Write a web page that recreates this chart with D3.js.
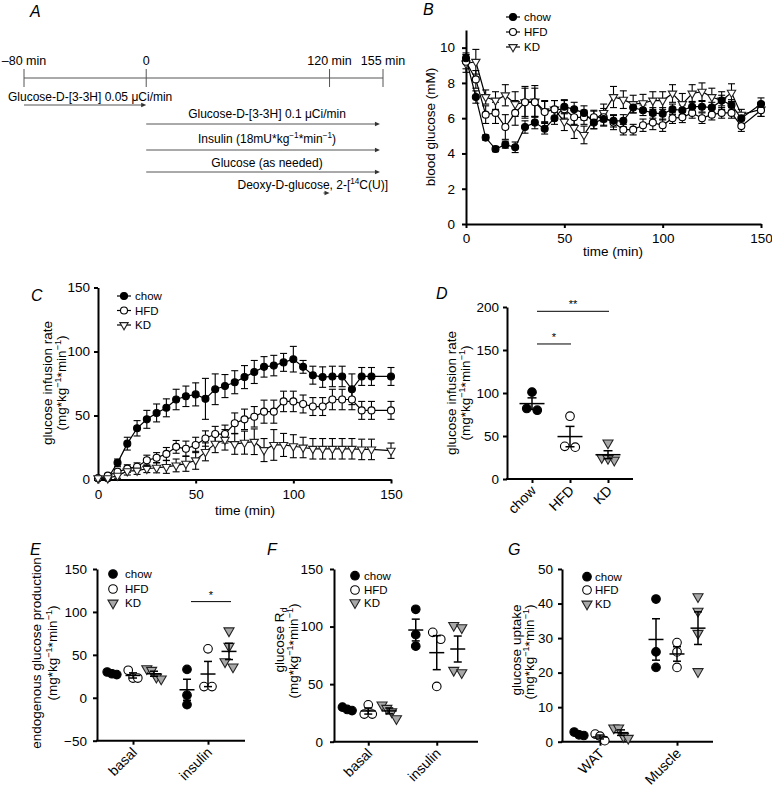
<!DOCTYPE html>
<html><head><meta charset="utf-8">
<script src="https://cdn.jsdelivr.net/npm/d3@7"></script>
<style>
body{margin:0;background:#fff;}
svg{display:block;}
</style></head><body>
<svg id="fig" width="772" height="790"></svg>
<script>
// ================= DATA =================
// Panel A protocol
const timelineTicks = [-80, 0, 120, 155];
const timelineLabels = ["\u201380 min", "0", "120 min", "155 min"];
const protocolText = [
  [["Glucose-D-[3-3H] 0.05 \u03bcCi/min"]],
  [["Glucose-D-[3-3H] 0.1 \u03bcCi/min"]],
  [["Insulin (18mU*kg"], ["\u22121", "sup"], ["*min"], ["\u22121", "sup"], [")"]],
  [["Glucose (as needed)"]],
  [["Deoxy-D-glucose, 2-["], ["14", "sup"], ["C(U)]"]]
];
const protocolStart = [-80, 0, 0, 0, 116];
const protocolEnd = [0, 153, 153, 153, 120];

// Panels B and C time axis
const timePoints = [0,5,10,15,20,25,30,35,40,45,50,55,60,65,70,75,80,85,90,95,100,105,110,115,120,125,130,135,140,150];
const seriesNames = ["chow", "HFD", "KD"];

// Panel B: blood glucose (mM)
const bgChow = [9.4,7.2,4.9,4.25,4.5,4.35,5.5,5.75,5.4,6.0,6.65,6.5,6.3,5.75,5.95,5.85,5.85,6.6,6.45,6.3,6.25,6.5,6.45,6.65,6.65,6.6,7.0,6.75,6.0,6.8];
const bgChowErr = [0.3,0.35,0.15,0.15,0.2,0.3,0.35,0.35,0.3,0.35,0.4,0.4,0.4,0.35,0.35,0.35,0.35,0.3,0.3,0.3,0.35,0.3,0.3,0.3,0.3,0.3,0.3,0.3,0.3,0.35];
const bgHFD = [9.2,8.2,6.2,6.3,5.5,6.3,6.9,6.9,6.35,6.5,6.5,6.05,6.05,6.05,6.05,5.75,5.35,5.35,5.6,5.75,5.6,6.0,6.05,6.3,6.0,6.2,6.3,6.3,5.55,6.45];
const bgHFDErr = [0.4,0.5,0.5,0.6,0.7,0.7,0.8,0.8,0.6,0.5,0.5,0.4,0.4,0.4,0.5,0.4,0.3,0.3,0.35,0.4,0.35,0.3,0.3,0.3,0.3,0.3,0.3,0.3,0.3,0.35];
const bgKD = [9.1,9.2,7.2,7.0,7.3,6.8,6.9,6.95,6.4,6.5,5.8,5.45,5.05,5.9,6.3,7.2,7.05,6.8,6.85,7.0,7.0,7.4,6.8,7.4,7.5,7.2,7.0,7.45,6.2,6.5];
const bgKDErr = [0.5,0.7,0.4,0.5,0.6,0.7,0.9,0.9,0.6,0.5,0.5,0.6,0.5,0.5,0.5,0.6,0.5,0.5,0.5,0.5,0.5,0.5,0.6,0.5,0.5,0.5,0.5,0.5,0.3,0.4];

// Panel C: glucose infusion rate
const girChow = [1,1,13,28,40,47,52,56,62.5,65,66.5,63,70.5,73,76,80,84,88,89,91.5,94,88,81.5,80,80.5,80.5,70.5,80.5,80.5,80.5];
const girChowErr = [0,1,3,5,6,7,7,7,8,8,9,16,12,9,9,9,9,8,8,7,10,5,7,8,8,8,12,7,7,7];
const girHFD = [1,3,6,8.5,10,15,17,20,25.5,24,27,32,35.5,35.5,44,47,49,53,53,61,61,59,57,57,62.5,62.5,62.5,54,54,54];
const girHFDErr = [0,1,2,3,3,4,4,5,5,6,6,6,6,7,8,8,8,9,9,8,8,7,7,7,8,8,8,7,7,7];
const girKD = [1,1,3,6.5,7,8.4,9.2,9.8,11,12.4,15,21.6,28,31,27.7,28.8,29.5,23,27,27,26,25,24,24,24,24,24,23.5,23.5,22.5];
const girKDErr = [0,1,2,3,3,3,4,5,5,6,7,7,7,8,8,9,10,9,12,9,9,8,8,8,8,8,8,8,8,6];

// Panel D: glucose infusion rate per group
const dCategories = ["chow", "HFD", "KD"];
const dChow = [101, 80, 82];
const dHFD = [73, 37, 38];
const dKD = [42, 25, 22, 24];

// Panel E: endogenous glucose production
const eCategories = ["basal", "insulin"];
const eChow = [[30, 28, 27], [33, -8, 3]];
const eHFD = [[32, 23, 23], [57, 13, 13]];
const eKD = [[32, 34, 24, 22], [78, 60, 42, 36]];

// Panel F: glucose Rd
const fCategories = ["basal", "insulin"];
const fChow = [[30, 28, 27], [115, 93, 83]];
const fHFD = [[32, 24, 24], [95, 89, 48]];
const fKD = [[32, 29, 26, 20], [101, 99, 62, 60]];

// Panel G: glucose uptake
const gCategories = ["WAT", "Muscle"];
const gChow = [[2.8, 2.0, 1.8], [41.3, 26, 21.5]];
const gHFD = [[2.2, 1.6, 0.3], [28.7, 26, 21.5]];
const gKD = [[4.0, 4.0, 1.0, 1.5], [42, 37.8, 31.4, 20.3]];

const unitParts = [["(mg*kg"], ["\u22121", "sup"], ["*min"], ["\u22121", "sup"], [")"]];

// ================= DRAWING =================
const FONT = '"Liberation Sans", Arial, Helvetica, sans-serif';
const svg = d3.select("#fig").attr("font-family", FONT);
svg.append("rect").attr("width", 772).attr("height", 790).attr("fill", "#fff");

function rich(textSel, parts, size) {
  let shift = 0;
  parts.forEach(p => {
    const t = p[0], k = p[1];
    const target = k === "sup" ? -size * 0.4 : k === "sub" ? size * 0.25 : 0;
    const ts = textSel.append("tspan").text(t);
    if (target !== shift) ts.attr("dy", target - shift);
    if (k) ts.attr("font-size", size * 0.68);
    shift = target;
  });
}

function styleAxis(g, fs) {
  g.attr("font-family", FONT).attr("font-size", fs || 13.5);
  g.select(".domain").attr("stroke", "#000").attr("stroke-width", 2);
  g.selectAll(".tick line").attr("stroke", "#000").attr("stroke-width", 2);
  g.selectAll(".tick text").attr("fill", "#000");
}

function panelLabel(t, x, y) {
  svg.append("text").attr("x", x).attr("y", y).attr("font-size", 16).attr("font-style", "italic").text(t);
}

function yLabel(x, y, parts, size) {
  const t = svg.append("text").attr("transform", `translate(${x},${y}) rotate(-90)`)
    .attr("text-anchor", "middle").attr("font-size", size);
  rich(t, parts, size);
}

function drawMarker(g, type, cx, cy, r, triArea, triFill) {
  if (type === "tri") {
    g.append("path").attr("d", d3.symbol(d3.symbolTriangle, triArea)())
      .attr("transform", `translate(${cx},${cy}) rotate(180)`)
      .attr("fill", triFill).attr("stroke", "#222").attr("stroke-width", 1.1);
  } else {
    g.append("circle").attr("cx", cx).attr("cy", cy).attr("r", r)
      .attr("fill", type === "filled" ? "#000" : "#fff").attr("stroke", "#000").attr("stroke-width", 1.1);
  }
}

// ---------- Panel A ----------
panelLabel("A", 30, 17);
const gA = svg.append("g");
const tl = d3.scaleLinear().domain([-80, 155]).range([24, 383]);
gA.append("line").attr("x1", tl(-80)).attr("x2", tl(155)).attr("y1", 78).attr("y2", 78).attr("stroke", "#555");
timelineTicks.forEach((t, i) => {
  gA.append("line").attr("x1", tl(t)).attr("x2", tl(t)).attr("y1", 69).attr("y2", 87).attr("stroke", "#555");
  gA.append("text").attr("x", tl(t)).attr("y", 65).attr("text-anchor", "middle").attr("font-size", 12.5).text(timelineLabels[i]);
});
const rowTextY = [101, 118, 142.5, 166.5, 189];
const rowLineY = [105, 124, 150, 172, 193];
const rowAnchor = ["start", "middle", "middle", "middle", "end"];
const rowX = [8, 267, 267, 267, 388];
protocolText.forEach((parts, i) => {
  const t = gA.append("text").attr("x", rowX[i]).attr("y", rowTextY[i]).attr("text-anchor", rowAnchor[i]).attr("font-size", 12);
  rich(t, parts, 12);
  const x1 = tl(protocolStart[i]), x2 = tl(protocolEnd[i]), y = rowLineY[i];
  gA.append("line").attr("x1", x1).attr("x2", x2 - 3).attr("y1", y).attr("y2", y).attr("stroke", "#555");
  gA.append("path").attr("d", `M${x2},${y}L${x2 - 5},${y - 2.2}L${x2 - 5},${y + 2.2}Z`).attr("fill", "#333");
});

// ---------- time series helper ----------
function timeSeries(g, x, y, sets, capHalf, r, triArea) {
  sets.forEach(s => {
    s.vals.forEach((v, i) => {
      const cx = x(timePoints[i]), e = s.errs[i];
      if (e > 0) {
        const y1 = y(v - e), y2 = y(v + e);
        g.append("line").attr("x1", cx).attr("x2", cx).attr("y1", y1).attr("y2", y2).attr("stroke", "#000").attr("stroke-width", 1.1);
        [y1, y2].forEach(yy => g.append("line").attr("x1", cx - capHalf).attr("x2", cx + capHalf).attr("y1", yy).attr("y2", yy).attr("stroke", "#000").attr("stroke-width", 1.1));
      }
    });
  });
  sets.forEach(s => {
    const line = d3.line().x((d, i) => x(timePoints[i])).y(d => y(d));
    g.append("path").attr("d", line(s.vals)).attr("fill", "none").attr("stroke", "#000").attr("stroke-width", 1.2);
  });
  sets.forEach(s => {
    s.vals.forEach((v, i) => drawMarker(g, s.type, x(timePoints[i]), y(v), r, triArea, "#fff"));
  });
}
function lineLegend(g, x, ys, types, r, triArea) {
  types.forEach((type, i) => {
    g.append("line").attr("x1", x - 7).attr("x2", x + 7).attr("y1", ys[i]).attr("y2", ys[i]).attr("stroke", "#000").attr("stroke-width", 1.2);
    drawMarker(g, type, x, ys[i], r, triArea, "#fff");
    g.append("text").attr("x", x + 11).attr("y", ys[i] + 4).attr("font-size", 11.5).text(seriesNames[i]);
  });
}
const types = ["filled", "open", "tri"];

// ---------- Panel B ----------
panelLabel("B", 423, 15);
const gB = svg.append("g");
const xB = d3.scaleLinear().domain([0, 150]).range([466, 761]);
const yB = d3.scaleLinear().domain([0, 11]).range([224, 30]);
styleAxis(gB.append("g").attr("transform", "translate(0,224)")
  .call(d3.axisBottom(xB).tickValues([0, 50, 100, 150]).tickSize(4).tickSizeOuter(0).tickPadding(5)));
styleAxis(gB.append("g").attr("transform", "translate(466,0)")
  .call(d3.axisLeft(yB).tickValues([0, 2, 4, 6, 8, 10]).tickSize(4).tickSizeOuter(0).tickPadding(7)));
timeSeries(gB, xB, yB, [
  { vals: bgKD, errs: bgKDErr, type: "tri" },
  { vals: bgHFD, errs: bgHFDErr, type: "open" },
  { vals: bgChow, errs: bgChowErr, type: "filled" }
], 3.5, 3.5, 30);
lineLegend(gB, 513, [17, 32, 47], types, 3.5, 30);
yLabel(435, 127, [["blood glucose (mM)"]], 13.5);
svg.append("text").attr("x", 613).attr("y", 256).attr("text-anchor", "middle").attr("font-size", 13.5).text("time (min)");

// ---------- Panel C ----------
panelLabel("C", 31, 301);
const gC = svg.append("g");
const xC = d3.scaleLinear().domain([0, 150]).range([98, 391]);
const yC = d3.scaleLinear().domain([0, 150]).range([479.5, 287.5]);
styleAxis(gC.append("g").attr("transform", "translate(0,479.5)")
  .call(d3.axisBottom(xC).tickValues([0, 50, 100, 150]).tickSize(4).tickSizeOuter(0).tickPadding(6)));
styleAxis(gC.append("g").attr("transform", "translate(98,0)")
  .call(d3.axisLeft(yC).tickValues([0, 50, 100, 150]).tickSize(4).tickSizeOuter(0).tickPadding(4)));
timeSeries(gC, xC, yC, [
  { vals: girChow, errs: girChowErr, type: "filled" },
  { vals: girHFD, errs: girHFDErr, type: "open" },
  { vals: girKD, errs: girKDErr, type: "tri" }
], 3.5, 3.5, 30);
lineLegend(gC, 124, [296, 310.5, 325], types, 3.5, 30);
yLabel(52, 383, [["glucose infusion rate"]], 13.5);
yLabel(66, 383, unitParts, 13.5);
svg.append("text").attr("x", 245).attr("y", 515).attr("text-anchor", "middle").attr("font-size", 13.5).text("time (min)");

// ---------- scatter helpers ----------
function scatterGroup(g, cx, y, vals, type, o) {
  const pts = vals.map(v => ({ v, py: y(v) })).sort((a, b) => a.py - b.py);
  const clusters = [];
  pts.forEach(p => {
    const last = clusters[clusters.length - 1];
    if (last && p.py - last[last.length - 1].py < o.thresh) last.push(p); else clusters.push([p]);
  });
  clusters.forEach(c => {
    const step = c.length > 2 ? o.spread * 0.6 : o.spread;
    c.forEach((p, i) => p.dx = (i - (c.length - 1) / 2) * step);
  });
  pts.forEach(p => drawMarker(g, type, cx + p.dx, p.py, o.r, o.triArea, "#a8a8a8"));
  const m = d3.mean(vals), sem = d3.deviation(vals) / Math.sqrt(vals.length);
  const L = (x1, x2, y1, y2) => g.append("line").attr("x1", x1).attr("x2", x2).attr("y1", y1).attr("y2", y2)
    .attr("stroke", "#000").attr("stroke-width", 1.5);
  L(cx - o.meanHalf, cx + o.meanHalf, y(m), y(m));
  L(cx, cx, y(m - sem), y(m + sem));
  L(cx - o.capHalf, cx + o.capHalf, y(m - sem), y(m - sem));
  L(cx - o.capHalf, cx + o.capHalf, y(m + sem), y(m + sem));
}
function catLabels(g, xs, cats, y0) {
  cats.forEach(c => {
    g.append("text").attr("transform", `translate(${xs(c) + 5},${y0 + 12.5}) rotate(-45)`)
      .attr("text-anchor", "end").attr("font-size", 14).text(c);
  });
}
function markerLegend(g, mx, tx, ys, o) {
  types.forEach((type, i) => {
    drawMarker(g, type, mx, ys[i], o.r, o.triArea, "#a8a8a8");
    g.append("text").attr("x", tx).attr("y", ys[i] + 4).attr("font-size", 11.5).text(seriesNames[i]);
  });
}
function catAxes(g, xs, y, axisX0, axisX1, y0, yTicks, pad) {
  styleAxis(g.append("g").attr("transform", `translate(${axisX0},0)`)
    .call(d3.axisLeft(y).tickValues(yTicks).tickSize(4).tickSizeOuter(0).tickPadding(pad)));
  const ax = g.append("g").attr("transform", `translate(0,${y0})`)
    .call(d3.axisBottom(xs).tickSize(4).tickSizeOuter(0).tickFormat(""));
  styleAxis(ax);
  ax.select(".domain").remove();
  g.append("line").attr("x1", axisX0 - 1).attr("x2", axisX1).attr("y1", y0).attr("y2", y0).attr("stroke", "#000").attr("stroke-width", 2);
}

// ---------- Panel D ----------
panelLabel("D", 436, 299);
const gD = svg.append("g");
const xD = d3.scalePoint().domain(dCategories).range([513, 627]).padding(0.5);
const yD = d3.scaleLinear().domain([0, 200]).range([479, 307]);
catAxes(gD, xD, yD, 507, 633, 479, [0, 50, 100, 150, 200], 4);
const optD = { r: 4.3, triArea: 44, thresh: 9, spread: 10.5, meanHalf: 12.5, capHalf: 4.5 };
[[dChow, "filled"], [dHFD, "open"], [dKD, "tri"]].forEach(([vals, type], i) => scatterGroup(gD, xD(dCategories[i]), yD, vals, type, optD));
catLabels(gD, xD, dCategories, 479);
[[0, 1, 157, "*"], [0, 2, 195, "**"]].forEach(([a, b, v, s]) => {
  const x1 = xD(dCategories[a]) + 5, x2 = xD(dCategories[b]) + 1, yy = yD(v);
  gD.append("line").attr("x1", x1).attr("x2", x2).attr("y1", yy).attr("y2", yy).attr("stroke", "#000").attr("stroke-width", 1);
  gD.append("text").attr("x", (x1 + x2) / 2).attr("y", yy - 3).attr("text-anchor", "middle").attr("font-size", 11).text(s);
});
yLabel(456, 393, [["glucose infusion rate"]], 13.5);
yLabel(470, 393, unitParts, 13.5);

// ---------- Panel E ----------
panelLabel("E", 30, 555);
const gE = svg.append("g");
const xE = d3.scalePoint().domain(eCategories).range([95.5, 245.5]).padding(0.5);
const offE = d3.scalePoint().domain(seriesNames).range([-21, 21]);
const yE = d3.scaleLinear().domain([-50, 150]).range([740.7, 569]);
catAxes(gE, xE, yE, 97, 245, 740.7, [-50, 0, 50, 100, 150], 6);
const optS = { r: 4.3, triArea: 44, thresh: 9, spread: 8, meanHalf: 7.5, capHalf: 4 };
eCategories.forEach((c, ci) => {
  [[eChow, "filled"], [eHFD, "open"], [eKD, "tri"]].forEach(([arr, type], si) =>
    scatterGroup(gE, xE(c) + offE(seriesNames[si]), yE, arr[ci], type, optS));
});
catLabels(gE, xE, eCategories, 740.7);
{
  const x1 = xE("insulin") + offE("chow") + 4, x2 = xE("insulin") + offE("KD") + 2, yy = yE(112);
  gE.append("line").attr("x1", x1).attr("x2", x2).attr("y1", yy).attr("y2", yy).attr("stroke", "#000").attr("stroke-width", 1);
  gE.append("text").attr("x", (x1 + x2) / 2).attr("y", yy - 3).attr("text-anchor", "middle").attr("font-size", 11).text("*");
}
markerLegend(gE, 113, 125, [574, 589, 603], optS);
yLabel(41, 653, [["endogenous glucose production"]], 13.5);
yLabel(57, 653, unitParts, 13.5);

// ---------- Panel F ----------
panelLabel("F", 267, 555);
const gF = svg.append("g");
const xF = d3.scalePoint().domain(fCategories).range([334, 471]).padding(0.5);
const yF = d3.scaleLinear().domain([0, 150]).range([741.7, 569]);
catAxes(gF, xF, yF, 334, 478, 741.7, [0, 50, 100, 150], 7);
fCategories.forEach((c, ci) => {
  [[fChow, "filled"], [fHFD, "open"], [fKD, "tri"]].forEach(([arr, type], si) =>
    scatterGroup(gF, xF(c) + offE(seriesNames[si]), yF, arr[ci], type, optS));
});
catLabels(gF, xF, fCategories, 741.7);
markerLegend(gF, 355, 364, [575.7, 590, 602.7], optS);
yLabel(284, 640, [["glucose R"], ["d", "sub"]], 13.5);
yLabel(298, 651, unitParts, 13.5);

// ---------- Panel G ----------
panelLabel("G", 508, 555);
const gG = svg.append("g");
const xG = d3.scalePoint().domain(gCategories).range([561.5, 715.5]).padding(0.5);
const yG = d3.scaleLinear().domain([0, 50]).range([741.7, 569]);
catAxes(gG, xG, yG, 562, 713, 741.7, [0, 10, 20, 30, 40, 50], 5);
gCategories.forEach((c, ci) => {
  [[gChow, "filled"], [gHFD, "open"], [gKD, "tri"]].forEach(([arr, type], si) =>
    scatterGroup(gG, xG(c) + offE(seriesNames[si]), yG, arr[ci], type, optS));
});
catLabels(gG, xG, gCategories, 741.7);
markerLegend(gG, 587, 595, [576.7, 590, 604], optS);
yLabel(521, 650, [["glucose uptake"]], 13.5);
yLabel(534, 652, unitParts, 13.5);
</script>
</body></html>
